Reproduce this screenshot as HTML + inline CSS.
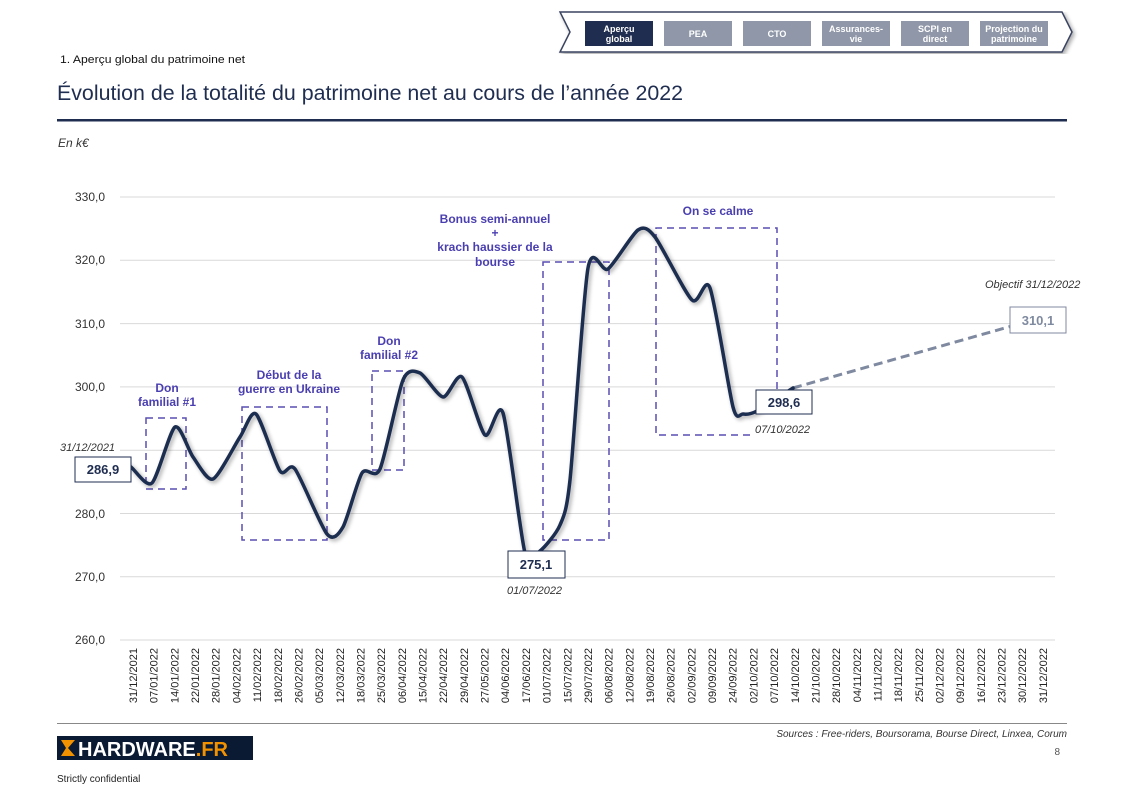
<!DOCTYPE html>
<html><head><meta charset="utf-8">
<style>
body{margin:0;width:1123px;height:794px;background:#fff;font-family:"Liberation Sans",sans-serif;overflow:hidden;position:relative}
</style></head><body>
<svg width="1123" height="794" viewBox="0 0 1123 794" xmlns="http://www.w3.org/2000/svg" font-family="Liberation Sans, sans-serif">
<defs>
<filter id="sh" x="-5%" y="-5%" width="110%" height="110%"><feGaussianBlur in="SourceAlpha" stdDeviation="2"/><feOffset dx="2" dy="2"/><feComponentTransfer><feFuncA type="linear" slope="0.35"/></feComponentTransfer><feMerge><feMergeNode/><feMergeNode in="SourceGraphic"/></feMerge></filter>
</defs>
<!-- nav -->
<polygon points="560,12 1062,12 1072,32 1062,52 560,52 570,32" fill="#fff" stroke="#3a4560" stroke-width="1.5" filter="url(#sh)"/>
<rect x="585" y="21" width="68" height="25" fill="#1f2d50"/>
<rect x="664" y="21" width="68" height="25" fill="#8f97a8"/>
<rect x="743" y="21" width="68" height="25" fill="#8f97a8"/>
<rect x="822" y="21" width="68" height="25" fill="#8f97a8"/>
<rect x="901" y="21" width="68" height="25" fill="#8f97a8"/>
<rect x="980" y="21" width="68" height="25" fill="#8f97a8"/>
<g fill="#fff" font-size="9" font-weight="bold" text-anchor="middle">
<text x="619" y="32">Aperçu</text><text x="619" y="42">global</text>
<text x="698" y="37">PEA</text><text x="777" y="37">CTO</text>
<text x="856" y="32">Assurances-</text><text x="856" y="42">vie</text>
<text x="935" y="32">SCPI en</text><text x="935" y="42">direct</text>
<text x="1014" y="32">Projection du</text><text x="1014" y="42">patrimoine</text>
</g>
<text x="60" y="63" font-size="11" fill="#111" textLength="185" lengthAdjust="spacingAndGlyphs">1. Aperçu global du patrimoine net</text>
<text x="57" y="100" font-size="21" fill="#1f2d50" textLength="626" lengthAdjust="spacingAndGlyphs">Évolution de la totalité du patrimoine net au cours de l’année 2022</text>
<rect x="57" y="119" width="1010" height="2.5" fill="#1f2d50"/>
<text x="58" y="147" font-size="12" font-style="italic" fill="#333">En k€</text>
<!-- grid -->
<g stroke="#d9d9d9" stroke-width="1">
<line x1="120" x2="1055" y1="197" y2="197"/><line x1="120" x2="1055" y1="260.3" y2="260.3"/>
<line x1="120" x2="1055" y1="323.6" y2="323.6"/><line x1="120" x2="1055" y1="386.9" y2="386.9"/>
<line x1="120" x2="1055" y1="450.2" y2="450.2"/><line x1="120" x2="1055" y1="513.5" y2="513.5"/>
<line x1="120" x2="1055" y1="576.8" y2="576.8"/><line x1="120" x2="1055" y1="640" y2="640"/>
</g>
<g font-size="12" fill="#333" text-anchor="end">
<text x="105" y="201">330,0</text><text x="105" y="264">320,0</text><text x="105" y="328">310,0</text>
<text x="105" y="391">300,0</text><text x="105" y="518">280,0</text>
<text x="105" y="581">270,0</text><text x="105" y="644">260,0</text>
</g>
<g id="xl" font-size="11" fill="#222" text-anchor="end"></g>
<!-- boxes -->
<g fill="none" stroke="#5a4fb3" stroke-width="1.5" stroke-dasharray="7,5">
<rect x="146" y="418" width="40" height="71"/>
<rect x="242" y="407" width="85" height="133"/>
<rect x="372" y="371" width="32" height="99"/>
<rect x="543" y="262" width="66" height="278"/>
<polyline points="750,435 656,435 656,228 777,228 777,390"/>
</g>
<g fill="#4a3fb0" font-size="12" font-weight="bold" text-anchor="middle">
<text x="167" y="392">Don</text><text x="167" y="406">familial #1</text>
<text x="289" y="379">Début de la</text><text x="289" y="393">guerre en Ukraine</text>
<text x="389" y="345">Don</text><text x="389" y="359">familial #2</text>
<text x="495" y="223">Bonus semi-annuel</text><text x="495" y="237">+</text>
<text x="495" y="251">krach haussier de la</text><text x="495" y="266">bourse</text>
<text x="718" y="215">On se calme</text>
</g>
<line x1="793" y1="388" x2="1012" y2="326" stroke="#7f8aa0" stroke-width="3" stroke-dasharray="9,5"/>
<path id="curve" fill="none" stroke="#1f2d50" stroke-width="3.5" stroke-linejoin="round" stroke-linecap="round" filter="url(#sh)"/>
<!-- value boxes -->
<g font-size="13" font-weight="bold" text-anchor="middle">
<rect x="75" y="457" width="56" height="25" fill="#fff" stroke="#1f2d50"/><text x="103" y="474" fill="#1f2d50">286,9</text>
<rect x="508" y="551" width="57" height="27" fill="#fff" stroke="#1f2d50"/><text x="536" y="569" fill="#1f2d50">275,1</text>
<rect x="756" y="390" width="56" height="24" fill="#fff" stroke="#1f2d50"/><text x="784" y="407" fill="#1f2d50">298,6</text>
<rect x="1010" y="307" width="56" height="26" fill="#fff" stroke="#7f8aa0"/><text x="1038" y="325" fill="#7f8aa0">310,1</text>
</g>
<g font-size="11" font-style="italic" fill="#333">
<text x="60" y="451">31/12/2021</text>
<text x="507" y="594">01/07/2022</text>
<text x="755" y="433">07/10/2022</text>
<text x="985" y="288">Objectif 31/12/2022</text>
</g>
<rect x="57" y="723" width="1010" height="1" fill="#888"/>
<text x="1067" y="737" font-size="10" font-style="italic" fill="#333" text-anchor="end">Sources : Free-riders, Boursorama, Bourse Direct, Linxea, Corum</text>
<text x="1060" y="755" font-size="10" fill="#555" text-anchor="end">8</text>
<rect x="57" y="736" width="196" height="24" fill="#0b1a33"/>
<polygon points="61,740 75,740 68,748 75,756 61,756 66,748" fill="#f39200"/>
<text x="78" y="756" font-size="20" font-weight="bold" fill="#fff">HARDWARE<tspan fill="#f39200">.FR</tspan></text>
<text x="57" y="782" font-size="10" fill="#222">Strictly confidential</text>
</svg>
<script>
var labels=["31/12/2021","07/01/2022","14/01/2022","22/01/2022","28/01/2022","04/02/2022","11/02/2022","18/02/2022","26/02/2022","05/03/2022","12/03/2022","18/03/2022","25/03/2022","06/04/2022","15/04/2022","22/04/2022","29/04/2022","27/05/2022","04/06/2022","17/06/2022","01/07/2022","15/07/2022","29/07/2022","06/08/2022","12/08/2022","19/08/2022","26/08/2022","02/09/2022","09/09/2022","24/09/2022","02/10/2022","07/10/2022","14/10/2022","21/10/2022","28/10/2022","04/11/2022","11/11/2022","18/11/2022","25/11/2022","02/12/2022","09/12/2022","16/12/2022","23/12/2022","30/12/2022","31/12/2022"];
var g=document.getElementById('xl'),ns="http://www.w3.org/2000/svg";
labels.forEach(function(l,i){var x=133+i*20.68;var t=document.createElementNS(ns,'text');t.setAttribute('transform','translate('+(x+4)+',648) rotate(-90)');t.textContent=l;g.appendChild(t);});
var p=[[120,460],[131,467],[152,483],[175,427],[193,457],[213,479],[240,437],[256,414],[280,471],[295,469],[327,534],[343,527],[362,473],[380,469],[403,380],[420,373],[443,397],[462,377],[485,435],[503,413],[525,553],[540,551],[560,525],[570,480],[588,268],[608,269],[638,230],[655,237],[692,300],[710,288],[733,407],[743,414],[757,411],[793,388]];
var d="M"+p[0][0]+","+p[0][1],k=8;
for(var i=0;i<p.length-1;i++){var p0=p[i-1]||p[i],p1=p[i],p2=p[i+1],p3=p[i+2]||p2;
var c1=[p1[0]+(p2[0]-p0[0])/k,p1[1]+(p2[1]-p0[1])/k],c2=[p2[0]-(p3[0]-p1[0])/k,p2[1]-(p3[1]-p1[1])/k];
d+=" C"+c1[0].toFixed(1)+","+c1[1].toFixed(1)+" "+c2[0].toFixed(1)+","+c2[1].toFixed(1)+" "+p2[0]+","+p2[1];}
document.getElementById('curve').setAttribute('d',d);
</script>
</body></html>
